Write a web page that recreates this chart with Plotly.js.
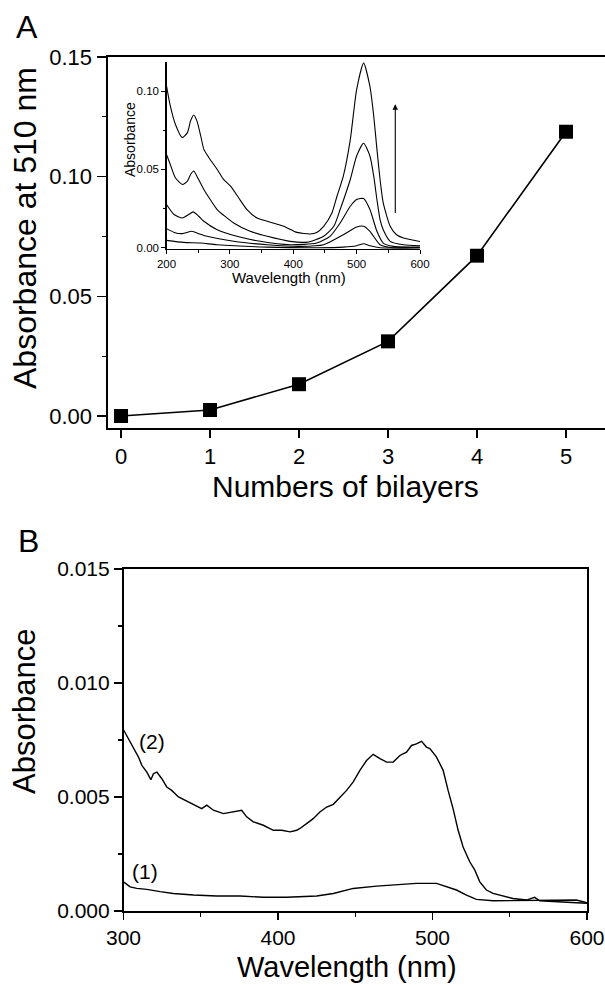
<!DOCTYPE html>
<html>
<head>
<meta charset="utf-8">
<script src="https://cdn.plot.ly/plotly-3.0.1.min.js"></script>
<style>html,body{margin:0;padding:0;background:#fff;}#chart{width:605px;height:985px;}</style>
</head>
<body>
<div id="chart"></div>
<script>
// Panel A main: absorbance at 510 nm vs number of bilayers
const bilayers = [0, 1, 2, 3, 4, 5];
const abs510 = [0.0000, 0.0025, 0.0133, 0.0312, 0.0670, 0.1188];

// Panel A inset: spectra after 1..5 bilayers
const insWl1 = [200, 227, 254, 280, 359, 437, 479, 500, 511, 521, 537, 600];
const insAbs1 = [0.0047, 0.0034, 0.0030, 0.0019, 0.0004, 0.0000, 0.0004, 0.0013, 0.0026, 0.0013, 0.0000, 0.0000];
const insWl2 = [200, 212, 225, 240, 251, 264, 306, 359, 411, 448, 479, 500, 511, 521, 537, 553, 600];
const insAbs2 = [0.0122, 0.0098, 0.0090, 0.0105, 0.0090, 0.0073, 0.0041, 0.0019, 0.0009, 0.0019, 0.0083, 0.0132, 0.0137, 0.0105, 0.0019, 0.0002, 0.0000];
const insWl3 = [200, 212, 225, 235, 242, 251, 259, 280, 311, 348, 395, 437, 458, 474, 490, 500, 511, 521, 532, 542, 558, 600];
const insAbs3 = [0.0276, 0.0212, 0.0190, 0.0212, 0.0229, 0.0201, 0.0169, 0.0115, 0.0073, 0.0041, 0.0019, 0.0030, 0.0073, 0.0158, 0.0265, 0.0308, 0.0314, 0.0244, 0.0105, 0.0030, 0.0009, 0.0004];
const insWl4 = [200, 206, 214, 225, 233, 238, 243, 248, 259, 269, 280, 306, 332, 359, 395, 422, 448, 464, 474, 490, 500, 511, 521, 527, 532, 537, 542, 553, 574, 600];
const insAbs4 = [0.0596, 0.0532, 0.0447, 0.0404, 0.0425, 0.0468, 0.0490, 0.0457, 0.0372, 0.0308, 0.0244, 0.0158, 0.0105, 0.0073, 0.0041, 0.0036, 0.0073, 0.0137, 0.0244, 0.0436, 0.0586, 0.0667, 0.0586, 0.0457, 0.0308, 0.0180, 0.0115, 0.0041, 0.0019, 0.0013];
const insWl5 = [200, 206, 214, 225, 233, 238, 243, 248, 254, 259, 267, 280, 290, 301, 314, 327, 343, 359, 385, 406, 427, 437, 448, 461, 469, 479, 490, 500, 511, 521, 527, 532, 537, 542, 553, 563, 574, 600];
const insAbs5 = [0.1034, 0.0906, 0.0789, 0.0703, 0.0735, 0.0810, 0.0848, 0.0810, 0.0714, 0.0628, 0.0575, 0.0500, 0.0436, 0.0393, 0.0318, 0.0244, 0.0190, 0.0169, 0.0137, 0.0098, 0.0088, 0.0098, 0.0137, 0.0222, 0.0329, 0.0457, 0.0690, 0.1010, 0.1180, 0.1030, 0.0840, 0.0630, 0.0436, 0.0286, 0.0137, 0.0083, 0.0062, 0.0040];

// Panel B: spectra (1) and (2)
const bWl2 = [300, 303.2, 306.5, 309.7, 311.9, 315.1, 317.7, 319.4, 321.6, 324.8, 328, 331.2, 335.6, 340.9, 346.3, 350.6, 353.9, 358.2, 364.7, 371.1, 376.5, 379.7, 384, 390.5, 397, 402.4, 407.8, 412.1, 414.2, 418.5, 422.8, 427.1, 431.5, 435.8, 440.1, 444.4, 448.7, 453, 457.3, 461.6, 466, 470.3, 474.6, 478.9, 483.2, 486.4, 489.6, 492.9, 496.1, 498.3, 502.6, 506.9, 510.1, 513.3, 516.6, 519.8, 524.1, 527.4, 530.6, 534.9, 539.2, 545.7, 552.1, 560.8, 566.1, 569.4, 578, 586.6, 593.1, 600];
const bAbs2 = [0.00795, 0.00755, 0.00719, 0.00675, 0.00639, 0.00609, 0.00576, 0.00602, 0.00609, 0.00580, 0.00544, 0.00529, 0.00500, 0.00483, 0.00464, 0.00449, 0.00464, 0.00442, 0.00427, 0.00434, 0.00442, 0.00413, 0.00391, 0.00376, 0.00354, 0.00354, 0.00347, 0.00354, 0.00362, 0.00383, 0.00405, 0.00434, 0.00456, 0.00468, 0.00500, 0.00529, 0.00566, 0.00617, 0.00660, 0.00687, 0.00668, 0.00653, 0.00653, 0.00682, 0.00697, 0.00726, 0.00733, 0.00744, 0.00719, 0.00712, 0.00675, 0.00617, 0.00529, 0.00449, 0.00354, 0.00281, 0.00216, 0.00179, 0.00128, 0.00092, 0.00077, 0.00066, 0.00055, 0.00048, 0.00060, 0.00045, 0.00041, 0.00036, 0.00036, 0.00034];
const bWl1 = [300, 304.3, 308.6, 315.1, 323.7, 332.3, 345.3, 360.3, 375.4, 390.5, 405.6, 425, 435.8, 448.7, 463.8, 474.6, 489.6, 502.6, 509, 515.5, 522, 528.4, 539.2, 554.3, 575.8, 593.1, 600];
const bAbs1 = [0.00128, 0.00106, 0.00099, 0.00095, 0.00085, 0.00077, 0.00070, 0.00066, 0.00066, 0.00060, 0.00060, 0.00066, 0.00077, 0.00099, 0.00109, 0.00114, 0.00121, 0.00121, 0.00106, 0.00092, 0.00070, 0.00051, 0.00045, 0.00045, 0.00045, 0.00048, 0.00036];

const FONT = 'Liberation Sans, Arial, sans-serif';
const W = 605, H = 985;
const px = v => v / W;
const py = v => 1 - v / H;

const insLine = {color: '#000', width: 1.1, shape: 'spline', smoothing: 0.6};
const traces = [
  {x: bilayers, y: abs510, xaxis: 'x', yaxis: 'y', mode: 'lines+markers',
   line: {color: '#000', width: 1.6}, marker: {symbol: 'square', size: 14, color: '#000'}},
  {x: insWl1, y: insAbs1, xaxis: 'x2', yaxis: 'y2', mode: 'lines', line: insLine},
  {x: insWl2, y: insAbs2, xaxis: 'x2', yaxis: 'y2', mode: 'lines', line: insLine},
  {x: insWl3, y: insAbs3, xaxis: 'x2', yaxis: 'y2', mode: 'lines', line: insLine},
  {x: insWl4, y: insAbs4, xaxis: 'x2', yaxis: 'y2', mode: 'lines', line: insLine},
  {x: insWl5, y: insAbs5, xaxis: 'x2', yaxis: 'y2', mode: 'lines', line: insLine},
  {x: bWl2, y: bAbs2, xaxis: 'x3', yaxis: 'y3', mode: 'lines', line: {color: '#000', width: 1.4}},
  {x: bWl1, y: bAbs1, xaxis: 'x3', yaxis: 'y3', mode: 'lines', line: {color: '#000', width: 1.4}}
];

const axBase = {showline: true, linecolor: '#000', ticks: 'outside', tickcolor: '#000',
  showgrid: false, zeroline: false, tickfont: {family: FONT, size: 22, color: '#000'}};

function lbl(text, x, y, size, angle) {
  return {text: text, xref: 'paper', yref: 'paper', x: px(x), y: py(y), xanchor: 'center', yanchor: 'middle',
    textangle: angle || 0, showarrow: false, font: {family: FONT, size: size, color: '#000'}};
}

const layout = {
  width: W, height: H,
  margin: {l: 0, r: 0, t: 0, b: 0},
  paper_bgcolor: '#fff', plot_bgcolor: 'rgba(0,0,0,0)',
  showlegend: false,
  font: {family: FONT, color: '#000'},
  xaxis: Object.assign({}, axBase, {domain: [px(107.5), 1], anchor: 'y', range: [-0.152, 5.438],
    tickvals: bilayers, ticktext: bilayers.map(String), linewidth: 2, mirror: true, ticklen: 8, tickwidth: 1.5}),
  yaxis: Object.assign({}, axBase, {domain: [py(428), py(57)], anchor: 'x', range: [-0.005, 0.15],
    dtick: 0.05, tick0: 0, tickformat: '.2f', linewidth: 2, ticklen: 9, tickwidth: 1.5,
    minor: {dtick: 0.025, tick0: 0, ticks: 'outside', ticklen: 4, tickwidth: 1.2, tickcolor: '#000', showgrid: false}}),
  xaxis2: Object.assign({}, axBase, {domain: [px(166.5), px(420)], anchor: 'y2', range: [200, 600],
    dtick: 100, tick0: 200, linewidth: 1.2, ticklen: 4, tickwidth: 1, tickfont: {family: FONT, size: 11.5, color: '#000'},
    minor: {dtick: 50, tick0: 200, ticks: 'outside', ticklen: 2.5, tickwidth: 1, tickcolor: '#000', showgrid: false}}),
  yaxis2: Object.assign({}, axBase, {domain: [py(249), py(61.7)], anchor: 'x2', range: [-0.0008, 0.1188],
    dtick: 0.05, tick0: 0, tickformat: '.2f', linewidth: 1.2, ticklen: 4, tickwidth: 1, tickfont: {family: FONT, size: 11.5, color: '#000'},
    minor: {dtick: 0.025, tick0: 0, ticks: 'outside', ticklen: 2.5, tickwidth: 1, tickcolor: '#000', showgrid: false}}),
  xaxis3: Object.assign({}, axBase, {domain: [px(123.5), px(587)], anchor: 'y3', range: [300, 600],
    dtick: 100, tick0: 300, linewidth: 1.6, mirror: true, ticklen: 7, tickwidth: 1.3, ticklabeloverflow: 'allow',
    tickfont: {family: FONT, size: 21, color: '#000'},
    minor: {dtick: 50, tick0: 300, ticks: 'outside', ticklen: 4, tickwidth: 1.1, tickcolor: '#000', showgrid: false}}),
  yaxis3: Object.assign({}, axBase, {domain: [py(911), py(569)], anchor: 'x3', range: [0, 0.015],
    dtick: 0.005, tick0: 0, tickformat: '.3f', linewidth: 1.6, mirror: true, ticklen: 8, tickwidth: 1.3,
    tickfont: {family: FONT, size: 21, color: '#000'},
    minor: {dtick: 0.0025, tick0: 0, ticks: 'outside', ticklen: 4, tickwidth: 1.1, tickcolor: '#000', showgrid: false}}),
  annotations: [
    lbl('A', 27, 27, 32),
    lbl('Absorbance at 510 nm', 25, 228, 32, -90),
    lbl('Numbers of bilayers', 345, 487, 30),
    lbl('Absorbance', 130, 140, 14, -90),
    lbl('Wavelength (nm)', 289, 277, 15),
    {x: 561, y: 0.0917, ax: 561, ay: 0.0212, xref: 'x2', yref: 'y2', axref: 'x2', ayref: 'y2', text: '', showarrow: true, arrowhead: 2, arrowsize: 1, arrowwidth: 1.1, arrowcolor: '#000'},
    lbl('B', 28, 541, 32),
    lbl('Absorbance', 24, 712, 31, -90),
    lbl('Wavelength (nm)', 347, 967, 29),
    {text: '(2)', xref: 'x3', yref: 'y3', x: 318.4, y: 0.00743, xanchor: 'center', yanchor: 'middle', showarrow: false, font: {family: FONT, size: 21, color: '#000'}},
    {text: '(1)', xref: 'x3', yref: 'y3', x: 314, y: 0.00172, xanchor: 'center', yanchor: 'middle', showarrow: false, font: {family: FONT, size: 21, color: '#000'}}
  ]
};

Plotly.newPlot('chart', traces, layout, {staticPlot: true, displayModeBar: false});
</script>
</body>
</html>
